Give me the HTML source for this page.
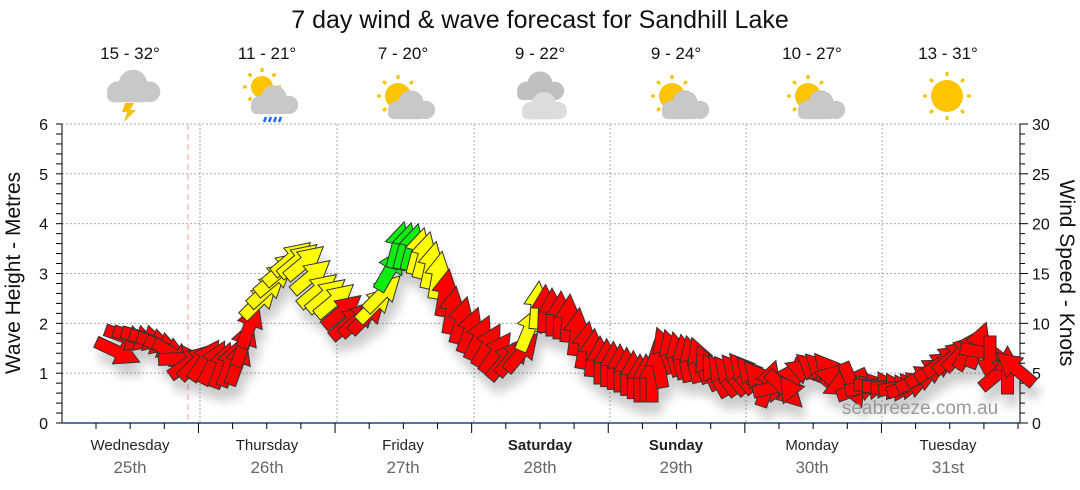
<!DOCTYPE html>
<html><head><meta charset="utf-8"><style>
body{margin:0;background:#fff;}
svg{font-family:"Liberation Sans",sans-serif;display:block}
</style></head><body>
<svg id="s" width="1080" height="490" xmlns="http://www.w3.org/2000/svg">
<defs>
<filter id="sh" x="-50%" y="-50%" width="200%" height="200%"><feGaussianBlur in="SourceAlpha" stdDeviation="5"/><feOffset dx="4" dy="12"/><feComponentTransfer><feFuncA type="linear" slope="0.2"/></feComponentTransfer><feMerge><feMergeNode/><feMergeNode in="SourceGraphic"/></feMerge></filter>
</defs>
<text x="540" y="28" font-size="25" text-anchor="middle" fill="#111">7 day wind &amp; wave forecast for Sandhill Lake</text>
<g id="grid" stroke="#aaa" stroke-dasharray="2,2" stroke-width="1"></g>
<line x1="188" y1="124" x2="188" y2="423" stroke="#f4a0a0" stroke-dasharray="6,4"/>
<g id="axes"></g>
<g id="icons"></g>
<g id="arrows" filter="url(#sh)"></g>
<text x="920" y="414" font-size="19" text-anchor="middle" fill="#999">seabreeze.com.au</text>
<text transform="translate(20,273) rotate(-90)" font-size="21" text-anchor="middle" fill="#111">Wave Height - Metres</text>
<text transform="translate(1060,273) rotate(90)" font-size="21" text-anchor="middle" fill="#111">Wind Speed - Knots</text>
</svg>
<script>
const NS="http://www.w3.org/2000/svg";
function el(p,t,a,txt){const e=document.createElementNS(NS,t);for(const k in a)e.setAttribute(k,a[k]);if(txt!==undefined)e.textContent=txt;p.appendChild(e);return e;}
const g=document.getElementById('grid'),ax=document.getElementById('axes'),ic=document.getElementById('icons'),ar=document.getElementById('arrows');
const L=62,R=1020,T=124,B=423;
for(let i=1;i<=6;i++){const y=B-i*(B-T)/6;el(g,'line',{x1:L,y1:y,x2:R,y2:y});}
const days=[200,337,474,610,746,882];
days.forEach(x=>el(g,'line',{x1:x,y1:T,x2:x,y2:B}));
el(ax,'line',{x1:L,y1:T,x2:L,y2:B,stroke:'#000'});
el(ax,'line',{x1:R,y1:T,x2:R,y2:B,stroke:'#000'});
el(ax,'line',{x1:L,y1:B,x2:R,y2:B,stroke:'#1a4a7a','stroke-width':1.5});
for(let i=0;i<=30;i++){const y=B-i*(B-T)/30;el(ax,'line',{x1:L-6,y1:y,x2:L,y2:y,stroke:'#000'});el(ax,'line',{x1:R,y1:y,x2:R+(i%5?5:8),y2:y,stroke:'#000'});}
for(let i=0;i<=6;i++){const y=B-i*(B-T)/6;el(ax,'text',{x:48,y:y+6,'font-size':16,'text-anchor':'end',fill:'#111'},i);}
for(let i=0;i<=30;i+=5){const y=B-i*(B-T)/30;el(ax,'text',{x:1032,y:y+6,'font-size':16,fill:'#111'},i);}
for(let x=L+34;x<R;x+=34.15){el(ax,'line',{x1:x,y1:B,x2:x,y2:B+(Math.abs(days.map(d=>Math.abs(d-x)).sort((a,b)=>a-b)[0])<6?10:6),stroke:'#000'});}
const dn=['Wednesday','Thursday','Friday','Saturday','Sunday','Monday','Tuesday'],dd=['25th','26th','27th','28th','29th','30th','31st'];
const cx=[130,267,403,540,676,812,948];
const temps=['15 - 32°','11 - 21°','7 - 20°','9 - 22°','9 - 24°','10 - 27°','13 - 31°'];
cx.forEach((x,i)=>{
 el(ax,'text',{x:x,y:450,'font-size':15,'text-anchor':'middle',fill:'#222','font-weight':(i==3||i==4)?'bold':'normal'},dn[i]);
 el(ax,'text',{x:x,y:473,'font-size':17,'text-anchor':'middle',fill:'#666'},dd[i]);
 el(ic,'text',{x:x,y:59,'font-size':17,'text-anchor':'middle',fill:'#111'},temps[i]);
});
function sun(x,y,r){const gg=el(ic,'g',{});for(let k=0;k<8;k++){const a=k*Math.PI/4;el(gg,'line',{x1:x+Math.cos(a)*(r+4),y1:y+Math.sin(a)*(r+4),x2:x+Math.cos(a)*(r+8),y2:y+Math.sin(a)*(r+8),stroke:'#f5c200','stroke-width':3});}el(gg,'circle',{cx:x,cy:y,r:r,fill:'#fcc500'});}
function cloud(x,y,s,c){const gg=el(ic,'g',{fill:c||'#c8c8c8'});el(gg,'circle',{cx:x,cy:y,r:11*s});el(gg,'circle',{cx:x-12*s,cy:y+6*s,r:8*s});el(gg,'circle',{cx:x+13*s,cy:y+6*s,r:8*s});el(gg,'rect',{x:x-20*s,y:y+4*s,width:33*s,height:10*s,rx:5*s});}
cloud(133,84,1.3);el(ic,'polygon',{points:'125,103 134,103 130,110 136,110 124,122 127,112 122,112',fill:'#f5c200'});
sun(262,87,11);cloud(274,98,1.15);[264,269,274,279].forEach((x)=>el(ic,'line',{x1:x+2,y1:117,x2:x,y2:122,stroke:'#1e6ff0','stroke-width':2.5}));
sun(398,96,13);cloud(411,103,1.15);
cloud(540,84,1.15,'#c0c0c0');cloud(544,104,1.1,'#dcdcdc');
sun(672,96,13);cloud(685,103,1.15);
sun(808,96,13);cloud(821,103,1.15);
sun(947,96,16);
const K=[[118,352,25,'r'],[128,338,20,'r'],[145,338,15,'r'],[160,345,20,'r'],[175,355,30,'r'],[190,362,-35,'r'],[205,360,-55,'r'],[222,365,-70,'r'],[238,362,-70,'r'],[250,325,-70,'r'],[260,300,-45,'y'],[275,278,-40,'y'],[292,258,-40,'y'],[305,262,-40,'y'],[318,290,-40,'y'],[335,300,-40,'y'],[350,322,-40,'r'],[368,315,-45,'r'],[383,293,-45,'y'],[398,245,-75,'g'],[412,247,-75,'g'],[424,255,-75,'y'],[438,275,-80,'y'],[452,310,-80,'r'],[470,330,-70,'r'],[488,345,-60,'r'],[505,360,-50,'r'],[522,352,-50,'r'],[537,305,-85,'y'],[552,312,-90,'r'],[568,318,-85,'r'],[585,345,-80,'r'],[600,360,-90,'r'],[620,368,-90,'r'],[640,378,-90,'r'],[652,378,-90,'r'],[665,350,-110,'r'],[685,358,-100,'r'],[700,360,-110,'r'],[715,375,-120,'r'],[730,375,-130,'r'],[745,372,-130,'r'],[760,380,-130,'r'],[785,390,45,'r'],[800,373,180,'r'],[815,370,-140,'r'],[830,372,-130,'r'],[845,383,155,'r'],[860,388,-20,'r'],[878,385,0,'r'],[895,388,0,'r'],[910,385,-20,'r'],[928,372,-30,'r'],[945,360,-35,'r'],[962,352,-45,'r'],[978,345,-70,'r'],[990,360,90,'r'],[1000,372,-40,'r'],[1015,368,-140,'r']];
const col={r:'#ff0000',y:'#ffff00',g:'#11ee11'};
let pts=[];
for(let i=0;i<K.length-1;i++){const a=K[i],b=K[i+1];const n=Math.max(1,Math.round((b[0]-a[0])/8));for(let j=0;j<n;j++){const t=j/n;let da=b[2]-a[2];if(da>180)da-=360;if(da<-180)da+=360;pts.push([a[0]+(b[0]-a[0])*t,a[1]+(b[1]-a[1])*t,a[2]+da*t,t<0.5?a[3]:b[3]]);}}
pts.push(K[K.length-1]);
for(let i=0;i<pts.length-1;i++)el(ar,'line',{x1:pts[i][0],y1:pts[i][1],x2:pts[i+1][0],y2:pts[i+1][1],stroke:'#888'});
pts.forEach(p=>{el(ar,'polygon',{points:'-24,-6 0,-6 0,-13 24,0 0,13 0,6 -24,6',fill:col[p[3]],stroke:'#333','stroke-width':1,transform:`translate(${p[0]},${p[1]}) rotate(${p[2]})`});});
</script>
</body></html>
